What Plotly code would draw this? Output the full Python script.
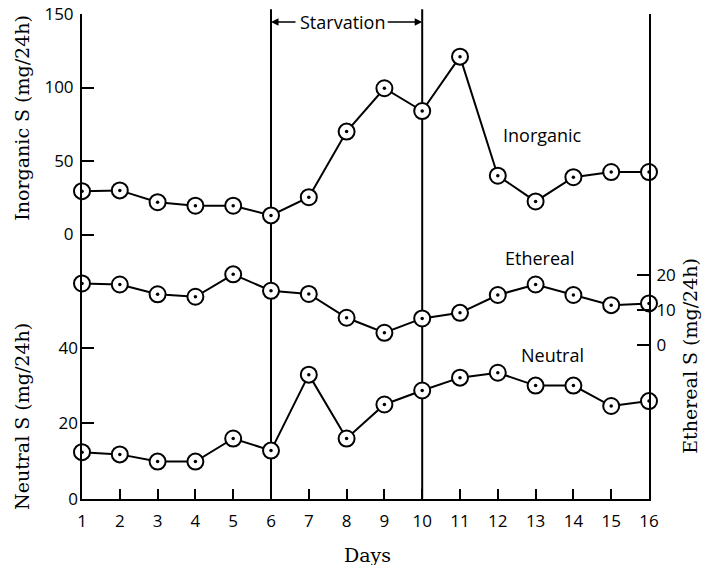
import plotly.graph_objects as go

days = list(range(1, 17))

inorganic = [29.5, 30, 22, 19.6, 19.6, 13, 25.4, 70, 99.5, 84, 121, 40, 22.5, 39, 42.5, 42.5]
ethereal = [17.6, 17.3, 14.5, 13.8, 20.2, 15.5, 14.6, 7.8, 3.5, 7.6, 9.2, 14.3, 17.3, 14.3, 11.4, 11.9]
neutral = [12.4, 11.8, 9.9, 9.9, 16.0, 12.8, 32.9, 16.0, 25.0, 28.7, 32.1, 33.4, 30.0, 30.0, 24.6, 25.9]

starvation = [6, 10]

inorg_ticks = [0, 50, 100, 150]
neutral_ticks = [0, 20, 40]
ether_ticks = [0, 10, 20]

sans = 'Open Sans'
serif = 'DejaVu Serif'

fig = go.Figure()


def add_series(fig, ys, yaxis):
    fig.add_trace(go.Scatter(
        x=days, y=ys, yaxis=yaxis,
        mode='lines+markers',
        line=dict(color='black', width=2),
        marker=dict(size=16, color='white', line=dict(color='black', width=2)),
        cliponaxis=False, showlegend=False, hoverinfo='skip'
    ))
    # centre dot
    fig.add_trace(go.Scatter(
        x=days, y=ys, yaxis=yaxis,
        mode='markers',
        marker=dict(size=3.5, color='black'),
        cliponaxis=False, showlegend=False, hoverinfo='skip'
    ))


add_series(fig, inorganic, 'y')
add_series(fig, neutral, 'y2')
add_series(fig, ethereal, 'y3')

for d in starvation:
    fig.add_shape(type='line', xref='x', yref='paper', x0=d, x1=d, y0=0, y1=1.01,
                  line=dict(color='black', width=2), layer='below')

tick_font = dict(family=sans, size=17, color='black')
axis_common = dict(showgrid=False, zeroline=False, ticks='inside', tickcolor='black',
                   tickwidth=2, tickfont=tick_font, automargin=False)

fig.update_layout(
    template='none',
    width=708, height=565,
    margin=dict(l=82, r=59, t=14, b=66, autoexpand=False),
    paper_bgcolor='white', plot_bgcolor='white',
    xaxis=dict(range=[1, 16], tickvals=days, ticklen=10, showline=True,
               linecolor='black', linewidth=2, ticklabelstandoff=6, **axis_common),
    yaxis=dict(range=[-179.9, 150], tickvals=inorg_ticks, ticklen=12, showline=True,
               linecolor='black', linewidth=2, side='left', ticklabelstandoff=3,
               **axis_common),
    yaxis2=dict(range=[0, 128.3], tickvals=neutral_ticks, ticklen=12, overlaying='y',
                side='left', anchor='x', showline=False, ticklabelstandoff=3,
                **axis_common),
    yaxis3=dict(range=[-44, 94.6], tickvals=ether_ticks, ticklen=12, overlaying='y',
                side='right', anchor='x', showline=True, linecolor='black', linewidth=2,
                ticklabelstandoff=2, **axis_common),
)

title_font = dict(family=serif, size=19, color='black')
label_font = dict(family=sans, size=18, color='black')

annotations = [
    dict(text='Inorganic S (mg/24h)', x=-0.106, y=0.786, textangle=-90, font=title_font),
    dict(text='Neutral S (mg/24h)', x=-0.106, y=0.171, textangle=-90, font=title_font),
    dict(text='Ethereal S (mg/24h)', x=1.072, y=0.295, textangle=-90, font=title_font),
    dict(text='Days', x=0.503, y=-0.115, font=title_font),
]
for a in annotations:
    fig.add_annotation(xref='paper', yref='paper', showarrow=False,
                       xanchor='center', yanchor='middle', **a)

fig.add_annotation(text='Inorganic', x=13.17, y=67.7, xref='x', yref='y',
                   showarrow=False, font=label_font)
fig.add_annotation(text='Ethereal', x=13.12, y=24.9, xref='x', yref='y3',
                   showarrow=False, font=label_font)
fig.add_annotation(text='Neutral', x=13.46, y=38.2, xref='x', yref='y2',
                   showarrow=False, font=label_font)
fig.add_annotation(text='Starvation', x=7.88, y=0.9835, xref='x', yref='paper',
                   showarrow=False, font=label_font, yanchor='middle')

# arrows for the starvation period
fig.add_annotation(text='', x=starvation[0], y=0.9835, xref='x', yref='paper',
                   ax=26, ay=0, showarrow=True, arrowhead=2, arrowsize=1,
                   arrowwidth=1.5, arrowcolor='black')
fig.add_annotation(text='', x=starvation[1], y=0.9835, xref='x', yref='paper',
                   ax=-36, ay=0, showarrow=True, arrowhead=2, arrowsize=1,
                   arrowwidth=1.5, arrowcolor='black')

fig.write_html('out.html', config={'displayModeBar': False},
               post_script="document.body.style.margin='0';")
